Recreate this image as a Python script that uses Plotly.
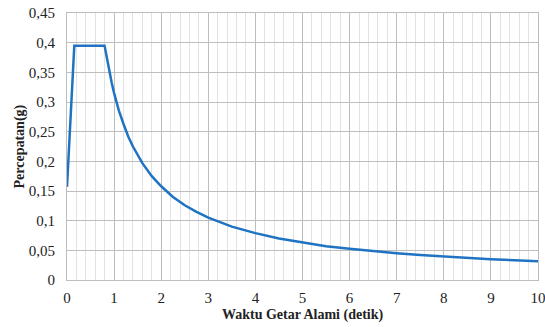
import plotly.graph_objects as go

periode = [0, 0.155, 0.797, 0.85, 0.9, 0.95, 1.0, 1.1, 1.2, 1.3, 1.4, 1.5, 1.6, 1.8, 2.0, 2.25, 2.5, 2.75,
           3.0, 3.5, 4.0, 4.5, 5.0, 5.5, 6.0, 6.5, 7.0, 7.5, 8.0, 8.5, 9.0, 9.5, 10.0]
percepatan = [0.157, 0.395, 0.395, 0.371, 0.350, 0.332, 0.315, 0.286, 0.263, 0.242, 0.225, 0.210, 0.197,
              0.175, 0.158, 0.140, 0.126, 0.115, 0.105, 0.090, 0.079, 0.070, 0.063, 0.057, 0.0525,
              0.0485, 0.045, 0.042, 0.0394, 0.037, 0.035, 0.0332, 0.0315]

x_ticks = list(range(0, 11))
y_ticks = [0, 0.05, 0.1, 0.15, 0.2, 0.25, 0.3, 0.35, 0.4, 0.45]
y_labels = ["0", "0,05", "0,1", "0,15", "0,2", "0,25", "0,3", "0,35", "0,4", "0,45"]

fig = go.Figure()
fig.add_trace(go.Scatter(x=periode, y=percepatan, mode="lines",
                         line=dict(color="#1f73c2", width=2.5), showlegend=False))

font = "Liberation Serif, Times New Roman, serif"
fig.update_layout(
    width=545, height=327,
    margin=dict(l=67, r=7, t=13, b=47),
    paper_bgcolor="white", plot_bgcolor="white",
    font=dict(family=font, size=14, color="#222"),
    separators=",.",
)
fig.update_xaxes(
    range=[0, 10], tickvals=x_ticks, ticks="", showgrid=True, gridcolor="#bdbdbd", gridwidth=1,
    minor=dict(dtick=0.2, showgrid=True, gridcolor="#e2e2e2", gridwidth=1),
    showline=True, linecolor="#bdbdbd", mirror=True, zeroline=False, automargin=False,
    tickfont=dict(family=font, size=15), ticklabelstandoff=4, ticklabeloverflow="allow",
)
fig.update_yaxes(
    range=[0, 0.45], tickvals=y_ticks, ticktext=y_labels, ticks="", showgrid=True,
    gridcolor="#bdbdbd", gridwidth=1, showline=True, linecolor="#bdbdbd", mirror=True, zeroline=False,
    automargin=False, ticklabeloverflow="allow",
    tickfont=dict(family=font, size=15), ticklabelstandoff=8,
)
fig.add_annotation(text="<b>Waktu Getar Alami (detik)</b>", xref="paper", yref="paper",
                   x=0.5, y=0, yshift=-35, yanchor="middle", showarrow=False,
                   font=dict(family=font, size=14, color="#222"))
fig.add_annotation(text="<b>Percepatan(g)</b>", xref="paper", yref="paper", textangle=-90,
                   x=0, xshift=-48, y=0.5, xanchor="center", showarrow=False,
                   font=dict(family=font, size=14, color="#222"))
fig.write_html("out.html")
